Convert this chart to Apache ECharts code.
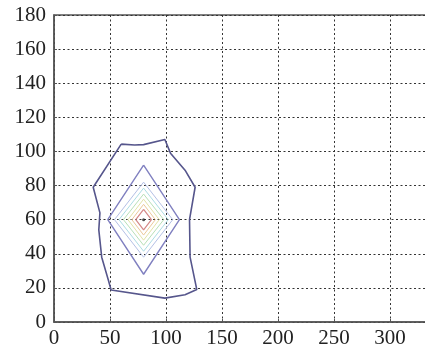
<!DOCTYPE html>
<html>
<head>
<meta charset="utf-8">
<script src="https://cdn.jsdelivr.net/npm/echarts@6/dist/echarts.min.js"></script>
<style>
    html, body { margin: 0; padding: 0; background: #fff; }
    #chart { width: 425px; height: 349px; }
</style>
</head>
<body>
<div id="chart"></div>
<script>
// tick labels
var xTicks = [0, 50, 100, 150, 200, 250, 300, 350];
var yTicks = [0, 20, 40, 60, 80, 100, 120, 140, 160, 180];

// contour lines (x, y)
var outerLine = [[60, 104.3], [72, 103.8], [80, 104], [99, 107], [104, 99], [117, 89], [126, 79],
    [121, 60], [121.5, 38], [127.5, 19], [117, 16], [99, 14], [51, 18.8], [48.5, 24.6],
    [42.6, 38], [40, 54], [41, 64], [35, 79], [60, 104.3]];
var blueLine = [[80, 92], [112, 60], [80, 28], [48, 60], [80, 92]];
var lightBlueLine = [[80, 82], [106, 60], [80, 38], [54, 60], [80, 82]];
var cyanLine = [[80, 78.5], [102, 60], [80, 41.5], [58, 60], [80, 78.5]];
var greenLine = [[80, 75], [98, 60], [80, 45], [62, 60], [80, 75]];
var yellowLine = [[80, 72], [94, 60], [80, 48], [66, 60], [80, 72]];
var orangeLine = [[80, 69], [90.5, 60], [80, 51], [69.5, 60], [80, 69]];
var redLine = [[80, 66], [87, 60], [80, 54], [73, 60], [80, 66]];
var peak = [[80, 60]];

var lineNames = ['outer', 'blue', 'lightblue', 'cyan', 'green', 'yellow', 'orange', 'red'];
var lineData = [outerLine, blueLine, lightBlueLine, cyanLine, greenLine, yellowLine, orangeLine, redLine];
var lineColors = ['#56568c', '#8080c0', '#b4c0e6', '#acdce4', '#b8e0b8', '#e2e2a6', '#ecc89a', '#d48888'];
var lineWidths = [1.6, 1.4, 1, 1, 1, 1, 1, 1.2];

var myChart = echarts.init(document.getElementById('chart'));

var series = lineData.map(function (d, i) {
    return {
        name: lineNames[i],
        type: 'line',
        data: d,
        showSymbol: false,
        symbol: 'none',
        smooth: false,
        animation: false,
        lineStyle: { color: lineColors[i], width: lineWidths[i] },
        z: 3 + (lineData.length - i)
    };
});
series.push({
    name: 'peak',
    type: 'scatter',
    data: peak,
    symbolSize: 3,
    itemStyle: { color: '#222' },
    animation: false,
    z: 20
});

var labelFont = {
    fontFamily: '"Liberation Serif", "Times New Roman", "DejaVu Serif", serif',
    fontSize: 21,
    color: '#222'
};

var option = {
    backgroundColor: '#fff',
    grid: {
        left: 54,
        top: 15,
        bottom: 27,
        right: -21,
        containLabel: false,
        outerBoundsMode: 'none',
        show: true,
        borderColor: '#555',
        borderWidth: 1.5
    },
    xAxis: {
        type: 'value',
        min: xTicks[0],
        max: xTicks[xTicks.length - 1],
        interval: 50,
        axisLine: { show: true, lineStyle: { color: '#555', width: 1.5 } },
        axisTick: { show: true, inside: true, length: 3, lineStyle: { color: '#555' } },
        axisLabel: Object.assign({ margin: 6 }, labelFont),
        splitLine: { show: true, lineStyle: { color: '#333', type: [2, 2.5], width: 1 } }
    },
    yAxis: {
        type: 'value',
        min: yTicks[0],
        max: yTicks[yTicks.length - 1],
        interval: 20,
        axisLine: { show: true, lineStyle: { color: '#555', width: 1.5 } },
        axisTick: { show: true, inside: true, length: 3, lineStyle: { color: '#555' } },
        axisLabel: Object.assign({ margin: 8 }, labelFont),
        splitLine: { show: true, lineStyle: { color: '#333', type: [2, 2.5], width: 1 } }
    },
    series: series
};

myChart.setOption(option);
</script>
</body>
</html>
